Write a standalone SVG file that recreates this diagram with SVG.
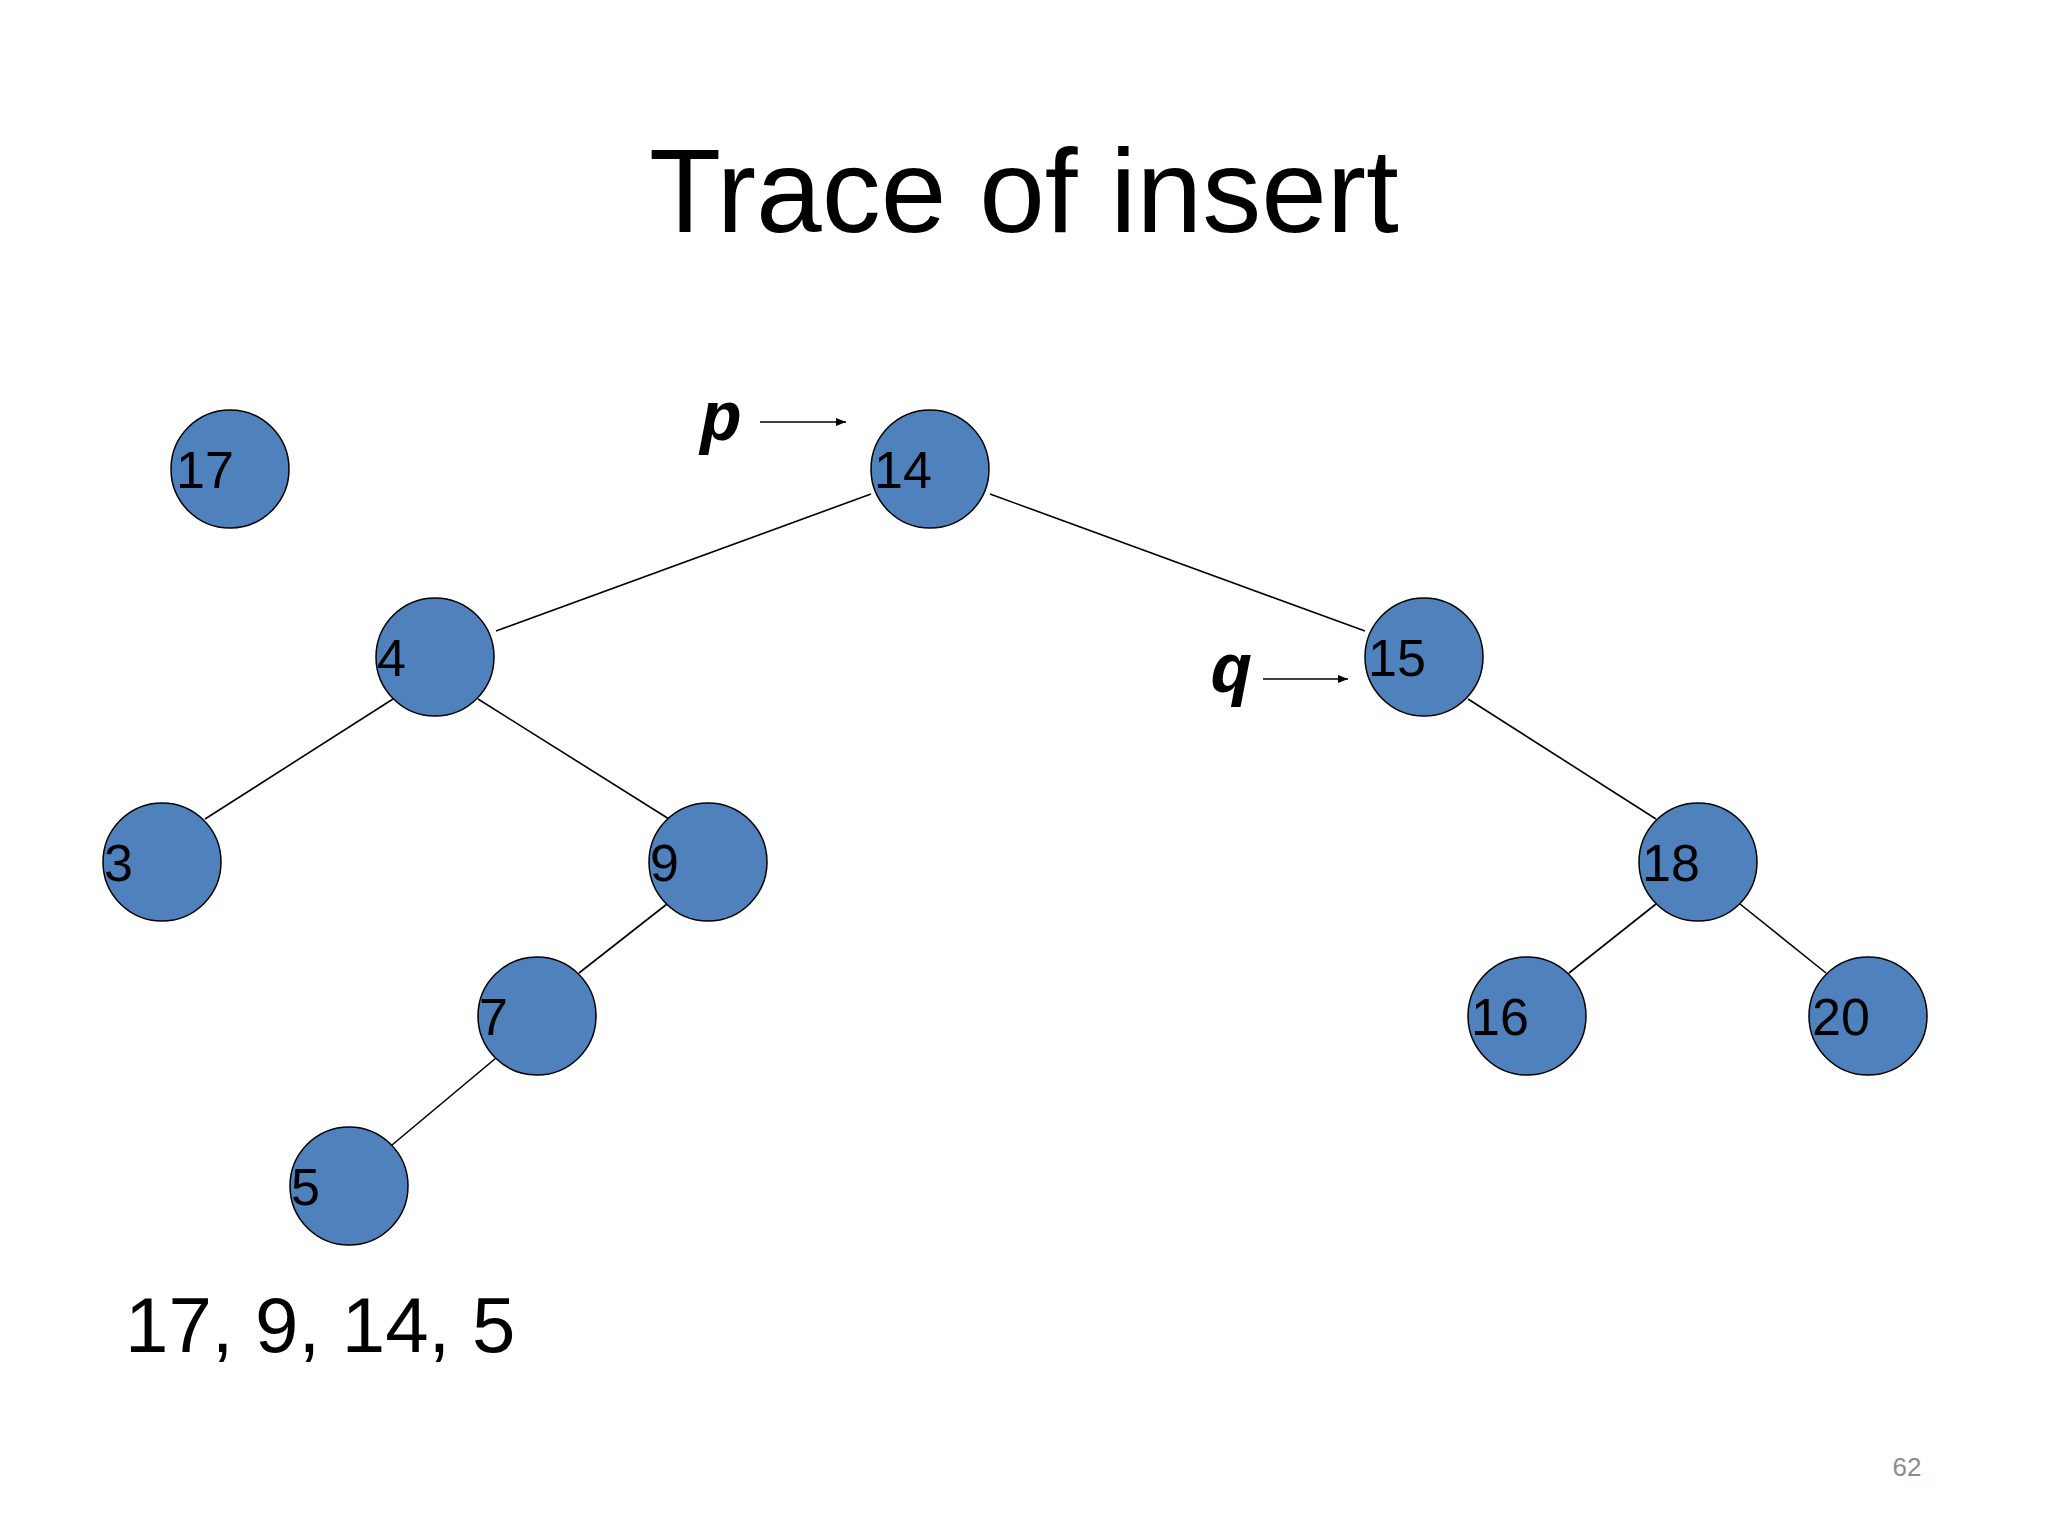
<svg xmlns="http://www.w3.org/2000/svg" width="2048" height="1536" viewBox="0 0 2048 1536">
<style>
.n{fill:#4f81bd;stroke:#000;stroke-width:1.5}
.t{font-family:"Liberation Sans",Arial,sans-serif;font-size:52px;fill:#000}
.e{stroke:#000;stroke-width:1.6;fill:none}
.pq{font-family:"Liberation Mono","Courier New",monospace;font-weight:bold;font-style:italic;font-size:70px}
</style>
<defs><marker id="a" markerWidth="10" markerHeight="8" refX="10" refY="4" orient="auto" markerUnits="userSpaceOnUse"><path d="M0,0L10,4L0,8z"/></marker></defs>
<rect width="2048" height="1536" fill="#fff"/>
<text x="1024" y="232" text-anchor="middle" font-family="Liberation Sans,Arial,sans-serif" font-size="118">Trace of insert</text>
<g id="edges">
<line class="e" x1="871" y1="494" x2="496" y2="631"/>
<line class="e" x1="990" y1="494" x2="1365" y2="631"/>
<line class="e" x1="393" y1="699" x2="205" y2="819"/>
<line class="e" x1="478" y1="699" x2="669" y2="819"/>
<line class="e" x1="667" y1="904" x2="579" y2="973"/>
<line class="e" x1="496" y1="1058" x2="392" y2="1145"/>
<line class="e" x1="1468" y1="699" x2="1656" y2="819"/>
<line class="e" x1="1656" y1="904" x2="1569" y2="973"/>
<line class="e" x1="1740" y1="904" x2="1826" y2="973"/>
<line class="e" x1="760" y1="422" x2="846" y2="422" marker-end="url(#a)"/>
<line class="e" x1="1263" y1="679" x2="1348" y2="679" marker-end="url(#a)"/>
</g>
<g id="n17"><circle class="n" cx="230" cy="469" r="59"/><text class="t" x="176" y="488">17</text></g>
<g id="n14"><circle class="n" cx="930" cy="469" r="59"/><text class="t" x="874" y="488">14</text></g>
<g id="n4"><circle class="n" cx="435" cy="657" r="59"/><text class="t" x="377" y="676">4</text></g>
<g id="n15"><circle class="n" cx="1424" cy="657" r="59"/><text class="t" x="1368" y="676">15</text></g>
<g id="n3"><circle class="n" cx="162" cy="862" r="59"/><text class="t" x="104" y="881">3</text></g>
<g id="n9"><circle class="n" cx="708" cy="862" r="59"/><text class="t" x="650" y="881">9</text></g>
<g id="n18"><circle class="n" cx="1698" cy="862" r="59"/><text class="t" x="1642" y="881">18</text></g>
<g id="n7"><circle class="n" cx="537" cy="1016" r="59"/><text class="t" x="479" y="1035">7</text></g>
<g id="n16"><circle class="n" cx="1527" cy="1016" r="59"/><text class="t" x="1471" y="1035">16</text></g>
<g id="n20"><circle class="n" cx="1868" cy="1016" r="59"/><text class="t" x="1812" y="1035">20</text></g>
<g id="n5"><circle class="n" cx="349" cy="1186" r="59"/><text class="t" x="291" y="1205">5</text></g>
<text class="pq" x="700" y="440">p</text>
<text class="pq" x="1210" y="692">q</text>
<text x="125" y="1352" font-family="Liberation Sans,Arial,sans-serif" font-size="78">17, 9, 14, 5</text>
<text x="1907" y="1476" text-anchor="middle" font-family="Liberation Sans,Arial,sans-serif" font-size="26" fill="#8c8c8c">62</text>
</svg>
